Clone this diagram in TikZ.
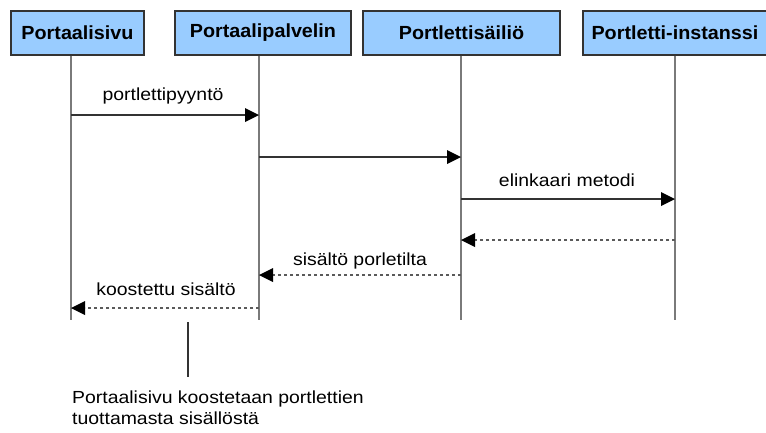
\documentclass[tikz,border=0pt]{standalone}
\usepackage{fontspec}
\setmainfont{Liberation Sans}
\newfontfamily\lblfont[FakeStretch=1.11]{Liberation Sans}
\newfontfamily\ttlfont[FakeStretch=1.04]{Liberation Sans Bold}
\usetikzlibrary{arrows.meta}
\definecolor{boxfill}{HTML}{99CCFF}
\definecolor{boxline}{HTML}{333333}
\definecolor{lifeline}{HTML}{7A7A7A}
\definecolor{msgline}{HTML}{333333}
\definecolor{retline}{HTML}{5A5A5A}
\tikzset{
  actor/.style={draw=boxline, line width=1.5pt, fill=boxfill, minimum height=44pt,
    inner sep=0pt, font=\ttlfont\fontsize{19}{22}\selectfont},
  life/.style={draw=lifeline, line width=2.6pt},
  call/.style={draw=msgline, line width=2.4pt, -{Triangle[length=14pt,width=14pt,fill=black,line width=0pt]}},
  reply/.style={draw=retline, line width=2pt, dash pattern=on 3.5pt off 2.5pt,
    -{Triangle[length=14pt,width=14pt,fill=black,line width=0pt]}},
  msg/.style={font=\lblfont\fontsize{17.5}{21}\selectfont, anchor=base, inner sep=0pt},
}
\begin{document}
\begin{tikzpicture}[x=1pt,y=-1pt]
\useasboundingbox (0,0) rectangle (766,432);
\clip (0,0) rectangle (766,432);

% participants
\node[actor, minimum width=133pt] (pa) at (77.5,33) {Portaalisivu};
\node[actor, minimum width=176pt] (pp) at (263,33) {Portaalipalvelin};
\node[actor, minimum width=197pt] (ps) at (461.5,33) {Portlettisäiliö};
\node[actor, minimum width=184pt] (pi) at (675,33) {Portletti-instanssi};

% lifeline ends
\coordinate (ea) at (71,320);
\coordinate (ep) at (259,320);
\coordinate (es) at (461,320);
\coordinate (ei) at (675,320);
\draw[life] (71,55.7) coordinate (ta) -- (ea);
\draw[life] (259,55.7) coordinate (tp) -- (ep);
\draw[life] (461,55.7) coordinate (ts) -- (es);
\draw[life] (675,55.7) coordinate (ti) -- (ei);

% message points on the lifelines
\coordinate (a1) at (71,115);   \coordinate (p1) at (259,115);
\coordinate (p2) at (259,157);  \coordinate (s2) at (461,157);
\coordinate (s3) at (461,199);  \coordinate (i3) at (675,199);
\coordinate (i4) at (675,240);  \coordinate (s4) at (461,240);
\coordinate (s5) at (461,275);  \coordinate (p5) at (259,275);
\coordinate (p6) at (259,308);  \coordinate (a6) at (71,308);

% messages
\draw[call] (a1) -- (p1);
\draw[call] (p2) -- (s2);
\draw[call] (s3) -- (i3);
\draw[reply] (i4) -- (s4);
\draw[reply] (s5) -- (p5);
\draw[reply] (p6) -- (a6);

\node[msg] (l1) at (163,100) {portlettipyyntö};
\node[msg] (l3) at (567,186) {elinkaari metodi};
\node[msg] (l5) at (360,265) {sisältö porletilta};
\node[msg] (l6) at (166,295) {koostettu sisältö};

% note
\coordinate (nt) at (188,322);
\coordinate (nb) at (188,377);
\draw[draw=msgline, line width=1.8pt] (nt) -- (nb);
\node[font=\lblfont\fontsize{17.5}{21}\selectfont, anchor=north west, inner sep=0pt,
  align=left] (note) at (72,391) {Portaalisivu koostetaan portlettien\\tuottamasta sisällöstä};
\end{tikzpicture}
\end{document}
